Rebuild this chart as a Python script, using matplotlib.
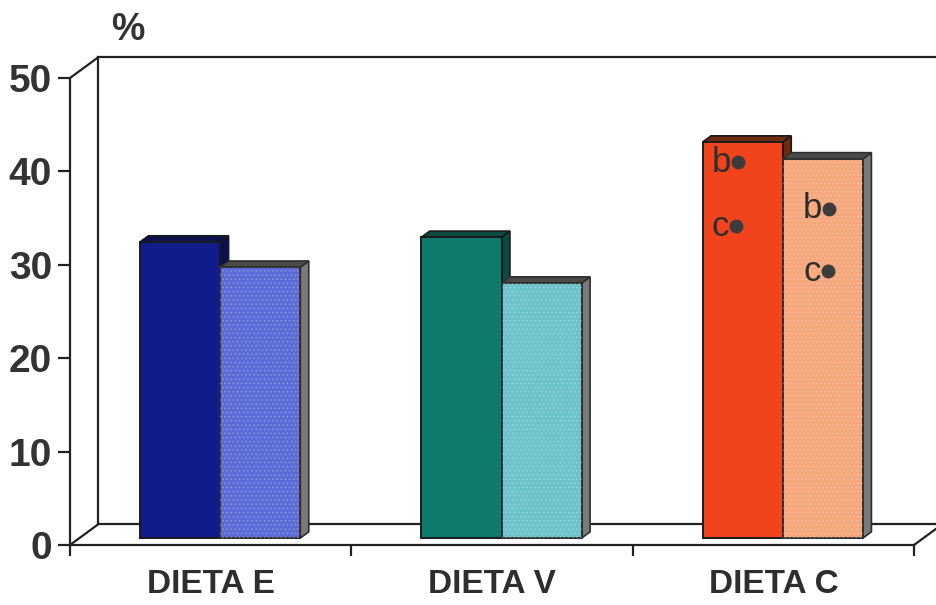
import numpy as np
import matplotlib.pyplot as plt
from matplotlib.patches import Polygon

# data
dietas = ['DIETA E', 'DIETA V', 'DIETA C']
serie_a = [31.7, 32.2, 42.4]   # barras oscuras
serie_b = [29.0, 27.3, 40.6]   # barras claras
yticks = [0, 10, 20, 30, 40, 50]

col_a = ['#101c8c', '#0d7a6c', '#f2441c']
col_b = ['#5c6bd6', '#6cc3cb', '#f6a77c']
top_a = ['#0a1050', '#0a4a40', '#6e2a12']

# significance marks (text, dot x, dot y)
marcas = [('b', 1.875, 41.0), ('c', 1.868, 34.15),
          ('b', 2.198, 36.0), ('c', 2.195, 29.3)]

# 3d-look parameters (data units)
DX, DY = 0.0995, 2.2       # full floor depth
d0, d1 = 0.34, 0.64        # bar front / back depth fraction
bw = 0.285                 # bar width

plt.rcParams['font.family'] = ['Liberation Sans', 'DejaVu Sans']
plt.rcParams['hatch.linewidth'] = 0.6
fig = plt.figure(figsize=(9.37, 6.05), dpi=100)
ax = fig.add_axes([70/937, 60/605, 844/937, 467/605])
ax.set_xlim(-0.5, 2.5)
ax.set_ylim(0, 50)
for s in ['top', 'right']:
    ax.spines[s].set_visible(False)
for s in ['left', 'bottom']:
    ax.spines[s].set_linewidth(1.6)
    ax.spines[s].set_color('#222222')

# back wall and floor
kw = dict(color='#222222', lw=1.6, clip_on=False, zorder=1)
ax.plot([-0.5 + DX, -0.5 + DX], [DY, 50 + DY], **kw)
ax.plot([-0.5 + DX, 2.7], [50 + DY, 50 + DY], **kw)
ax.plot([-0.5 + DX, 2.5 + DX], [DY, DY], **kw)
ax.plot([-0.5, -0.5 + DX], [50, 50 + DY], **kw)
ax.plot([-0.5, -0.5 + DX], [0, DY], **kw)
ax.plot([2.5, 2.5 + DX], [0, DY], **kw)


def bar3d(xl, val, color, side, top_c, edge, z, hatch=None):
    fx, fy = d0 * DX, d0 * DY
    ddx, ddy = (d1 - d0) * DX, (d1 - d0) * DY
    x0 = xl + fx
    x1 = x0 + bw
    top = fy + val
    ax.add_patch(Polygon([(x1, fy), (x1, top), (x1 + ddx, top + ddy), (x1 + ddx, fy + ddy)],
                         closed=True, fc=side, ec=edge, lw=1.2, zorder=z))
    ax.add_patch(Polygon([(x0, top), (x1, top), (x1 + ddx, top + ddy), (x0 + ddx, top + ddy)],
                         closed=True, fc=top_c, ec=edge, lw=1.2, zorder=z))
    b = ax.bar(x0, val, bw, bottom=fy, align='edge', color=color, edgecolor=edge,
               lw=1.4, zorder=z + 0.1)
    if hatch:
        ax.bar(x0, val, bw, bottom=fy, align='edge', fill=False, hatch=hatch,
               edgecolor=(1, 1, 1, 0.25), lw=0, zorder=z + 0.2)
    return b


x = np.arange(len(dietas))
for i in x:
    bar3d(i - bw, serie_a[i], col_a[i], top_a[i], top_a[i], '#1a1a1a', 3)
    bar3d(i, serie_b[i], col_b[i], '#7a7a7a', '#4a4a4a', '#2e2e2e', 4, hatch='....')

for t, xd, yd in marcas:
    ax.text(xd - 0.025, yd, t, fontsize=25, color='#2e2e2e', va='center',
            ha='right', zorder=6)
    ax.plot(xd, yd, 'o', ms=9, color='#3c3c3c', zorder=6)

# ticks
ax.set_yticks(yticks)
ax.set_yticklabels([str(t) for t in yticks], fontsize=28, fontweight='bold',
                   color='#333333')
ax.tick_params(axis='y', length=9, width=1.6, pad=4, color='#222222')
ax.set_xticks([-0.5, 0.5, 1.5, 2.5])
ax.set_xticklabels([])
ax.tick_params(axis='x', which='major', length=8, width=1.6, color='#222222')
ax.set_xticks(x, minor=True)
ax.set_xticklabels(dietas, minor=True, fontsize=24, fontweight='bold',
                   color='#2e2e2e')
ax.tick_params(axis='x', which='minor', length=0, pad=17)

fig.text(128/937, 1 - 30/605, '%', fontsize=27, fontweight='bold',
         color='#333333', ha='center', va='center')

fig.savefig('out.png', dpi=100)
